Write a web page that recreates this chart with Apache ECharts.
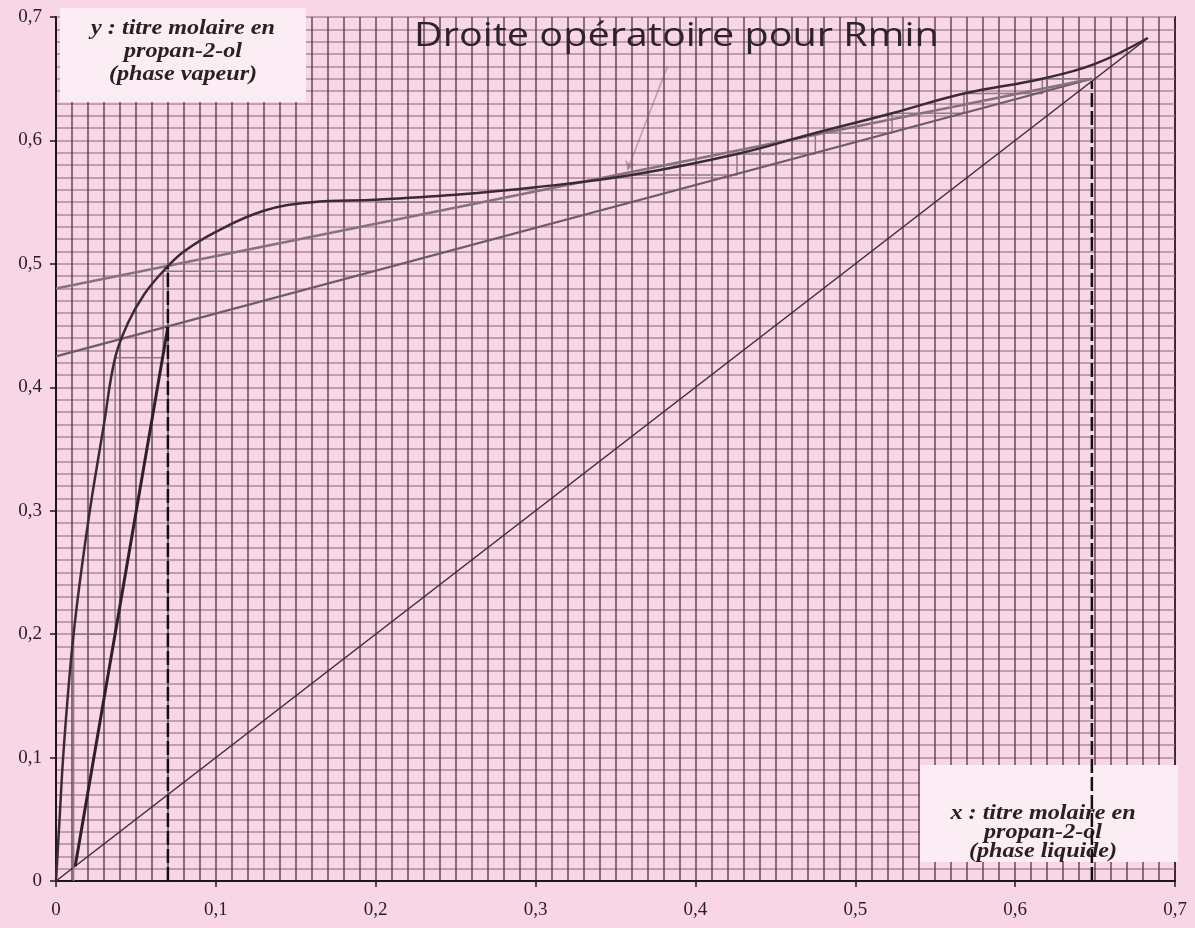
<!DOCTYPE html>
<html>
<head>
<meta charset="utf-8">
<script src="https://cdn.jsdelivr.net/npm/echarts@6/dist/echarts.min.js"></script>
<style>
html,body{margin:0;padding:0;background:#f8d6e6;}
#c{width:1195px;height:928px;}
</style>
</head>
<body>
<div id="c"></div>
<script>
// Tick labels
const axisTicks = [0, 0.1, 0.2, 0.3, 0.4, 0.5, 0.6, 0.7];
// Equilibrium curve (x liquid, y vapour)
const eqX = [0, 0.002, 0.005, 0.011, 0.02, 0.03, 0.037, 0.045, 0.055, 0.067, 0.08, 0.1, 0.13, 0.16, 0.2, 0.25, 0.3, 0.36, 0.426, 0.475, 0.523, 0.568, 0.617, 0.65, 0.683];
const eqY = [0, 0.045, 0.11, 0.2, 0.29, 0.37, 0.424, 0.452, 0.475, 0.494, 0.51, 0.526, 0.543, 0.55, 0.552, 0.556, 0.562, 0.572, 0.589, 0.606, 0.622, 0.638, 0.65, 0.662, 0.683];
// Diagonal y = x
const diagX = [0, 0.683];
const diagY = [0, 0.683];
// Operating line for Rmin
const rminX = [0, 0.648];
const rminY = [0.48, 0.65];
// Actual rectifying line
const rectX = [0, 0.648];
const rectY = [0.425, 0.65];
// Stripping line
const stripX = [0.012, 0.07];
const stripY = [0.012, 0.449];
// Staircase (stages)
const stepX = [0.648, 0.617, 0.617, 0.568, 0.568, 0.523, 0.523, 0.475, 0.475, 0.426, 0.426, 0.36, 0.36, 0.2, 0.2, 0.067, 0.067, 0.037, 0.037, 0.011, 0.011];
const stepY = [0.65, 0.65, 0.638, 0.638, 0.622, 0.622, 0.606, 0.606, 0.589, 0.589, 0.572, 0.572, 0.55, 0.55, 0.494, 0.494, 0.424, 0.424, 0.2, 0.2, 0];
// Feed (q) vertical dashed line and distillate dashed line
const feedX = [0.07, 0.07];
const feedY = [0, 0.497];
const distX = [0.648, 0.648];
const distY = [0, 0.648];
// Arrow pointing to the Rmin line
const arrowX = [0.3825, 0.3575];
const arrowY = [0.66, 0.576];

const pairs = (xs, ys) => xs.map((x, i) => [x, ys[i]]);
const fmt = v => (v === 0 ? '0' : v.toFixed(1).replace('.', ','));

const chart = echarts.init(document.getElementById('c'));
const axisCommon = {
  type: 'value', min: 0, max: 0.7, interval: 0.1,
  axisLine: { show: true, onZero: false, lineStyle: { color: '#1e1619', width: 2 } },
  axisTick: { show: true, inside: false, length: 6, lineStyle: { color: '#1e1619', width: 1.5 } },
  minorTick: { show: false, splitNumber: 10 },
  axisLabel: {
    formatter: fmt, color: '#2a2024',
    fontFamily: 'Liberation Serif', fontSize: 19
  }
};
const labelFont = 'italic bold 21px "Liberation Serif"';
chart.setOption({
  backgroundColor: '#f8d6e6',
  animation: false,
  grid: {
    left: 56, right: 20, top: 17, bottom: 47,
    show: true, backgroundColor: '#f8d6e6',
    borderColor: '#2a2024', borderWidth: 2
  },
  xAxis: Object.assign({}, axisCommon, {
    axisLabel: Object.assign({}, axisCommon.axisLabel, { margin: 20 }),
    splitLine: { show: true, lineStyle: { color: 'rgba(72,50,60,0.8)', width: 1.6 } },
    minorSplitLine: { show: true, lineStyle: { color: 'rgba(72,50,60,0.8)', width: 1.6 } }
  }),
  yAxis: Object.assign({}, axisCommon, {
    axisLabel: Object.assign({}, axisCommon.axisLabel, { margin: 14 }),
    splitLine: { show: true, lineStyle: { color: '#c09cad', width: 2 } },
    minorSplitLine: { show: true, lineStyle: { color: '#c09cad', width: 2 } }
  }),
  graphic: [
    { type: 'rect', z: 1, shape: { x: 60, y: 8, width: 246, height: 94 }, style: { fill: '#fcecf4' } },
    { type: 'rect', z: 1, shape: { x: 920, y: 765, width: 258, height: 97 }, style: { fill: '#fcecf4' } },
    { type: 'text', z: 3, x: 183, y: 17, scaleX: 1.15, originX: 0,
      style: { text: 'y : titre molaire en\npropan-2-ol\n(phase vapeur)', textAlign: 'center', textVerticalAlign: 'top', font: labelFont, lineHeight: 23, fill: '#2a2024' } },
    { type: 'text', z: 3, x: 1043, y: 804, scaleX: 1.15, originX: 0,
      style: { text: 'x : titre molaire en\npropan-2-ol\n(phase liquide)', textAlign: 'center', textVerticalAlign: 'top', font: labelFont, lineHeight: 19, fill: '#2a2024' } },
    { type: 'text', z: 3, x: 414, y: 20, scaleX: 1.2, originX: 0,
      style: { text: 'Droite opératoire pour Rmin', textAlign: 'left', textVerticalAlign: 'top', font: '33px "Open Sans"', fill: '#2e2428' } }
  ],
  series: [
    { type: 'line', data: pairs(diagX, diagY), symbol: 'none', lineStyle: { color: '#3a2c32', width: 1.5 } },
    { type: 'line', data: pairs(stepX, stepY), symbol: 'none', lineStyle: { color: '#8e7a84', width: 1.5 } },
    { type: 'line', data: pairs(rectX, rectY), symbol: 'none', lineStyle: { color: '#6e5c65', width: 2.2 } },
    { type: 'line', data: pairs(rminX, rminY), symbol: 'none', lineStyle: { color: '#85727c', width: 2.5 } },
    { type: 'line', data: pairs(eqX, eqY), symbol: 'none', smooth: 0.4, lineStyle: { color: '#3a2a31', width: 2.5 } },
    { type: 'line', data: pairs(stripX, stripY), symbol: 'none', lineStyle: { color: '#2e2126', width: 3 } },
    { type: 'line', data: pairs(feedX, feedY), symbol: 'none', lineStyle: { color: '#141012', width: 2.5, type: [14, 4] } },
    { type: 'line', data: pairs(distX, distY), symbol: 'none', lineStyle: { color: '#141012', width: 2.5, type: [14, 4] } },
    { type: 'lines', coordinateSystem: 'cartesian2d', symbol: ['none', 'arrow'], symbolSize: 9,
      lineStyle: { color: '#7a6670', width: 1.5 },
      data: [{ coords: pairs(arrowX, arrowY) }] }
  ]
});
</script>
</body>
</html>
